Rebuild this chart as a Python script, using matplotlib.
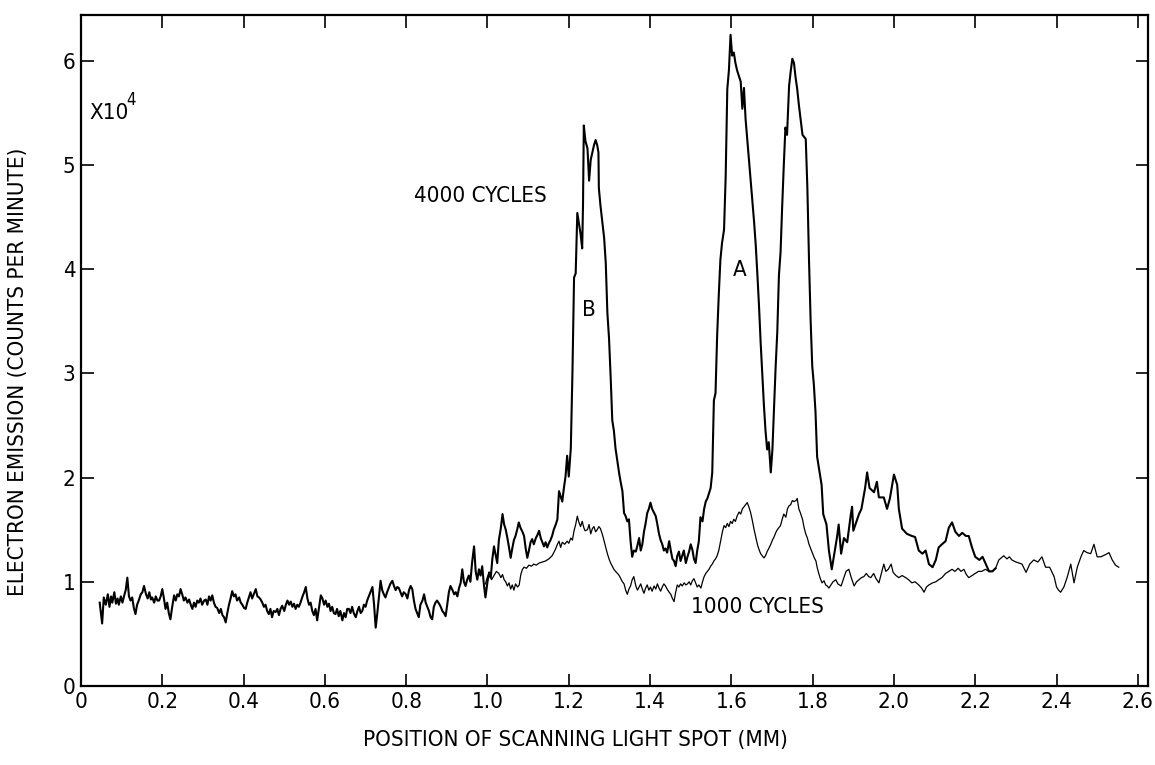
import numpy as np
import matplotlib.pyplot as plt

plt.rcParams['font.family'] = ['DejaVu Sans']
plt.rcParams['font.stretch'] = 'condensed'

# (position mm, emission x10^4 counts/min)
curve_4000 = [
    (0.046, 0.80), (0.049, 0.70), (0.052, 0.60), (0.056, 0.85), (0.061, 0.78), (0.066, 0.88),
    (0.070, 0.76), (0.074, 0.86), (0.077, 0.80), (0.082, 0.90), (0.086, 0.79), (0.090, 0.84),
    (0.093, 0.78), (0.098, 0.86), (0.102, 0.80), (0.107, 0.88), (0.110, 0.92), (0.114, 1.04),
    (0.118, 0.86), (0.122, 0.82), (0.126, 0.85), (0.130, 0.75), (0.134, 0.69), (0.138, 0.78),
    (0.142, 0.82), (0.147, 0.88), (0.151, 0.90), (0.155, 0.96), (0.160, 0.88), (0.164, 0.84),
    (0.168, 0.90), (0.172, 0.83), (0.175, 0.85), (0.180, 0.80), (0.184, 0.86), (0.188, 0.82),
    (0.192, 0.82), (0.196, 0.86), (0.200, 0.93), (0.204, 0.84), (0.208, 0.74), (0.212, 0.80),
    (0.216, 0.70), (0.220, 0.64), (0.224, 0.75), (0.229, 0.87), (0.233, 0.82), (0.237, 0.88),
    (0.241, 0.86), (0.245, 0.93), (0.249, 0.88), (0.253, 0.82), (0.257, 0.85), (0.262, 0.80),
    (0.266, 0.83), (0.270, 0.78), (0.274, 0.74), (0.278, 0.80), (0.282, 0.76), (0.286, 0.82),
    (0.290, 0.80), (0.294, 0.84), (0.298, 0.78), (0.303, 0.82), (0.307, 0.83), (0.311, 0.78),
    (0.315, 0.86), (0.319, 0.82), (0.323, 0.87), (0.327, 0.80), (0.331, 0.76), (0.335, 0.75),
    (0.340, 0.70), (0.344, 0.74), (0.348, 0.68), (0.352, 0.66), (0.356, 0.61), (0.360, 0.70),
    (0.364, 0.78), (0.368, 0.84), (0.372, 0.91), (0.376, 0.86), (0.380, 0.88), (0.384, 0.82),
    (0.389, 0.85), (0.393, 0.80), (0.397, 0.78), (0.401, 0.75), (0.405, 0.74), (0.409, 0.80),
    (0.413, 0.85), (0.417, 0.90), (0.421, 0.84), (0.425, 0.88), (0.430, 0.93), (0.434, 0.86),
    (0.438, 0.85), (0.442, 0.83), (0.446, 0.80), (0.450, 0.76), (0.454, 0.78), (0.458, 0.72),
    (0.462, 0.69), (0.466, 0.74), (0.470, 0.66), (0.474, 0.72), (0.479, 0.71), (0.483, 0.74),
    (0.487, 0.68), (0.491, 0.74), (0.495, 0.77), (0.500, 0.72), (0.504, 0.78), (0.508, 0.82),
    (0.512, 0.78), (0.516, 0.81), (0.520, 0.76), (0.524, 0.79), (0.528, 0.74), (0.532, 0.78),
    (0.536, 0.76), (0.540, 0.80), (0.545, 0.86), (0.549, 0.90), (0.553, 0.95), (0.557, 0.84),
    (0.561, 0.78), (0.565, 0.80), (0.569, 0.72), (0.573, 0.68), (0.577, 0.74), (0.581, 0.63),
    (0.585, 0.74), (0.590, 0.87), (0.594, 0.84), (0.598, 0.78), (0.602, 0.82), (0.606, 0.76),
    (0.610, 0.79), (0.614, 0.72), (0.618, 0.76), (0.622, 0.70), (0.626, 0.69), (0.630, 0.74),
    (0.634, 0.67), (0.638, 0.72), (0.643, 0.63), (0.647, 0.70), (0.651, 0.66), (0.655, 0.74),
    (0.659, 0.74), (0.663, 0.70), (0.667, 0.76), (0.671, 0.70), (0.676, 0.66), (0.680, 0.72),
    (0.684, 0.76), (0.688, 0.70), (0.692, 0.72), (0.696, 0.78), (0.700, 0.76), (0.704, 0.82),
    (0.708, 0.86), (0.712, 0.90), (0.717, 0.95), (0.721, 0.78), (0.725, 0.56), (0.729, 0.70),
    (0.733, 0.86), (0.737, 1.01), (0.741, 0.92), (0.745, 0.88), (0.749, 0.85), (0.753, 0.90),
    (0.757, 0.94), (0.761, 0.98), (0.766, 1.01), (0.770, 0.96), (0.774, 0.92), (0.778, 0.95),
    (0.782, 0.94), (0.786, 0.90), (0.790, 0.86), (0.794, 0.90), (0.799, 0.88), (0.803, 0.84),
    (0.807, 0.92), (0.811, 0.96), (0.815, 0.93), (0.819, 0.82), (0.823, 0.74), (0.827, 0.70),
    (0.831, 0.66), (0.835, 0.78), (0.840, 0.82), (0.844, 0.88), (0.848, 0.80), (0.852, 0.76),
    (0.856, 0.72), (0.860, 0.66), (0.864, 0.64), (0.868, 0.76), (0.872, 0.80), (0.876, 0.82),
    (0.881, 0.79), (0.885, 0.76), (0.889, 0.72), (0.893, 0.70), (0.897, 0.67), (0.901, 0.78),
    (0.905, 0.90), (0.909, 0.96), (0.914, 0.92), (0.918, 0.88), (0.922, 0.90), (0.926, 0.86),
    (0.930, 0.94), (0.934, 0.99), (0.938, 1.12), (0.942, 1.00), (0.946, 0.96), (0.950, 1.02),
    (0.954, 1.06), (0.958, 1.00), (0.962, 1.18), (0.967, 1.34), (0.971, 1.10), (0.975, 1.02),
    (0.979, 1.12), (0.983, 1.06), (0.987, 1.15), (0.991, 0.98), (0.995, 0.85), (1.000, 1.00),
    (1.004, 1.09), (1.008, 1.04), (1.012, 1.22), (1.016, 1.34), (1.020, 1.26), (1.024, 1.18),
    (1.028, 1.40), (1.033, 1.52), (1.037, 1.65), (1.041, 1.55), (1.045, 1.50), (1.049, 1.42),
    (1.053, 1.33), (1.057, 1.23), (1.061, 1.32), (1.065, 1.40), (1.069, 1.44), (1.073, 1.50),
    (1.077, 1.57), (1.081, 1.52), (1.086, 1.48), (1.090, 1.44), (1.094, 1.32), (1.098, 1.23),
    (1.102, 1.30), (1.106, 1.38), (1.110, 1.41), (1.114, 1.36), (1.119, 1.42), (1.123, 1.45),
    (1.127, 1.49), (1.131, 1.42), (1.135, 1.38), (1.139, 1.34), (1.143, 1.38), (1.147, 1.33),
    (1.151, 1.37), (1.155, 1.40), (1.159, 1.44), (1.163, 1.50), (1.168, 1.55), (1.172, 1.60),
    (1.176, 1.87), (1.180, 1.82), (1.184, 1.77), (1.188, 1.90), (1.192, 2.01), (1.196, 2.21),
    (1.200, 2.01), (1.205, 2.28), (1.209, 3.00), (1.213, 3.92), (1.217, 3.96), (1.221, 4.54),
    (1.225, 4.44), (1.229, 4.34), (1.233, 4.20), (1.235, 4.61), (1.237, 5.38), (1.241, 5.23),
    (1.246, 5.16), (1.250, 4.85), (1.254, 5.05), (1.258, 5.12), (1.262, 5.19), (1.266, 5.24),
    (1.270, 5.19), (1.273, 5.12), (1.274, 4.78), (1.278, 4.61), (1.283, 4.44), (1.287, 4.30),
    (1.291, 4.06), (1.295, 3.58), (1.299, 3.34), (1.303, 2.97), (1.307, 2.55), (1.311, 2.45),
    (1.315, 2.28), (1.320, 2.15), (1.324, 2.04), (1.328, 1.95), (1.332, 1.87), (1.336, 1.66),
    (1.340, 1.63), (1.344, 1.58), (1.348, 1.60), (1.352, 1.39), (1.356, 1.24), (1.360, 1.30),
    (1.365, 1.29), (1.369, 1.35), (1.373, 1.42), (1.377, 1.30), (1.381, 1.36), (1.385, 1.48),
    (1.389, 1.56), (1.393, 1.66), (1.397, 1.70), (1.401, 1.76), (1.405, 1.70), (1.410, 1.66),
    (1.414, 1.63), (1.418, 1.55), (1.422, 1.46), (1.426, 1.40), (1.430, 1.36), (1.434, 1.30),
    (1.438, 1.32), (1.442, 1.28), (1.447, 1.39), (1.451, 1.30), (1.455, 1.22), (1.459, 1.20),
    (1.463, 1.15), (1.467, 1.25), (1.471, 1.29), (1.475, 1.20), (1.479, 1.25), (1.483, 1.30),
    (1.488, 1.18), (1.492, 1.24), (1.496, 1.29), (1.500, 1.36), (1.504, 1.31), (1.508, 1.22),
    (1.512, 1.18), (1.516, 1.30), (1.520, 1.39), (1.524, 1.62), (1.529, 1.58), (1.533, 1.70),
    (1.537, 1.77), (1.541, 1.80), (1.545, 1.85), (1.549, 1.90), (1.553, 2.05), (1.557, 2.74),
    (1.561, 2.81), (1.565, 3.36), (1.569, 3.75), (1.573, 4.09), (1.577, 4.25), (1.582, 4.38),
    (1.586, 4.89), (1.590, 5.73), (1.594, 5.91), (1.598, 6.25), (1.602, 6.05), (1.606, 6.08),
    (1.610, 5.98), (1.614, 5.91), (1.618, 5.86), (1.623, 5.80), (1.627, 5.54), (1.631, 5.74),
    (1.635, 5.44), (1.639, 5.25), (1.643, 5.07), (1.647, 4.88), (1.651, 4.67), (1.656, 4.45),
    (1.660, 4.23), (1.664, 3.95), (1.668, 3.65), (1.672, 3.30), (1.676, 2.99), (1.680, 2.70),
    (1.684, 2.45), (1.688, 2.27), (1.692, 2.34), (1.697, 2.05), (1.701, 2.27), (1.705, 2.67),
    (1.709, 3.07), (1.713, 3.40), (1.717, 3.94), (1.721, 4.16), (1.725, 4.60), (1.729, 5.00),
    (1.733, 5.36), (1.737, 5.29), (1.742, 5.76), (1.746, 5.90), (1.750, 6.02), (1.754, 5.98),
    (1.758, 5.84), (1.762, 5.73), (1.766, 5.58), (1.770, 5.45), (1.775, 5.29), (1.779, 5.27),
    (1.783, 5.25), (1.787, 4.78), (1.791, 4.09), (1.795, 3.51), (1.799, 3.07), (1.803, 2.89),
    (1.807, 2.63), (1.811, 2.20), (1.815, 2.10), (1.822, 1.93), (1.826, 1.65), (1.834, 1.55),
    (1.840, 1.30), (1.847, 1.12), (1.852, 1.24), (1.860, 1.43), (1.864, 1.55), (1.870, 1.27),
    (1.877, 1.42), (1.885, 1.38), (1.894, 1.65), (1.897, 1.72), (1.900, 1.49), (1.914, 1.65),
    (1.920, 1.70), (1.929, 1.90), (1.934, 2.05), (1.940, 1.90), (1.951, 1.86), (1.958, 1.96),
    (1.963, 1.81), (1.975, 1.81), (1.983, 1.70), (1.990, 1.80), (2.000, 2.03), (2.008, 1.93),
    (2.012, 1.70), (2.020, 1.51), (2.032, 1.46), (2.044, 1.44), (2.052, 1.43), (2.061, 1.30),
    (2.070, 1.27), (2.078, 1.30), (2.086, 1.17), (2.095, 1.14), (2.103, 1.21), (2.110, 1.33),
    (2.118, 1.36), (2.127, 1.39), (2.135, 1.52), (2.143, 1.57), (2.151, 1.48), (2.160, 1.44),
    (2.168, 1.47), (2.177, 1.44), (2.184, 1.44), (2.192, 1.33), (2.200, 1.24), (2.210, 1.21),
    (2.218, 1.24), (2.226, 1.17), (2.234, 1.10), (2.242, 1.10), (2.250, 1.13),
]

curve_1000 = [
    (0.995, 0.98), (1.000, 1.05), (1.004, 1.08), (1.010, 1.02), (1.016, 1.06), (1.022, 1.10),
    (1.028, 1.08), (1.033, 1.04), (1.037, 1.07), (1.041, 1.02), (1.045, 1.00), (1.049, 0.96),
    (1.053, 0.99), (1.057, 0.93), (1.061, 0.97), (1.065, 0.92), (1.069, 0.98), (1.074, 0.95),
    (1.078, 0.97), (1.082, 1.07), (1.086, 1.12), (1.090, 1.14), (1.096, 1.13), (1.102, 1.16),
    (1.108, 1.15), (1.114, 1.17), (1.120, 1.16), (1.127, 1.18), (1.135, 1.19), (1.143, 1.20),
    (1.151, 1.22), (1.159, 1.25), (1.163, 1.28), (1.167, 1.31), (1.172, 1.36), (1.176, 1.39),
    (1.180, 1.33), (1.184, 1.38), (1.190, 1.36), (1.196, 1.39), (1.200, 1.37), (1.205, 1.42),
    (1.209, 1.40), (1.213, 1.49), (1.217, 1.55), (1.221, 1.63), (1.225, 1.57), (1.229, 1.53),
    (1.233, 1.58), (1.237, 1.52), (1.240, 1.49), (1.246, 1.50), (1.250, 1.55), (1.254, 1.46),
    (1.258, 1.51), (1.262, 1.53), (1.266, 1.48), (1.270, 1.50), (1.274, 1.53), (1.278, 1.51),
    (1.283, 1.45), (1.287, 1.39), (1.291, 1.33), (1.295, 1.27), (1.299, 1.22), (1.303, 1.18),
    (1.307, 1.15), (1.311, 1.12), (1.315, 1.10), (1.320, 1.08), (1.324, 1.06), (1.328, 1.03),
    (1.332, 1.00), (1.336, 0.98), (1.340, 0.92), (1.344, 0.88), (1.348, 0.93), (1.352, 0.96),
    (1.356, 1.02), (1.360, 1.05), (1.365, 0.96), (1.369, 0.92), (1.373, 0.95), (1.377, 0.98),
    (1.381, 0.93), (1.385, 0.89), (1.389, 0.94), (1.393, 0.97), (1.397, 0.92), (1.401, 0.95),
    (1.405, 0.91), (1.410, 0.96), (1.414, 0.93), (1.418, 0.98), (1.422, 0.94), (1.426, 0.91),
    (1.430, 0.95), (1.434, 0.98), (1.438, 0.96), (1.442, 0.93), (1.447, 0.90), (1.451, 0.88),
    (1.455, 0.84), (1.459, 0.81), (1.463, 0.90), (1.467, 0.97), (1.471, 0.95), (1.475, 0.98),
    (1.479, 0.96), (1.484, 0.99), (1.488, 0.97), (1.492, 0.98), (1.496, 1.00), (1.500, 0.97),
    (1.504, 1.01), (1.508, 1.03), (1.512, 0.99), (1.516, 0.95), (1.520, 0.97), (1.525, 0.94),
    (1.529, 1.00), (1.533, 1.05), (1.537, 1.08), (1.541, 1.10), (1.545, 1.12), (1.549, 1.15),
    (1.553, 1.17), (1.557, 1.20), (1.561, 1.22), (1.565, 1.25), (1.569, 1.30), (1.573, 1.38),
    (1.578, 1.48), (1.582, 1.54), (1.586, 1.52), (1.590, 1.56), (1.594, 1.53), (1.598, 1.58),
    (1.602, 1.56), (1.606, 1.60), (1.610, 1.58), (1.614, 1.63), (1.619, 1.67), (1.623, 1.65),
    (1.627, 1.70), (1.631, 1.72), (1.635, 1.74), (1.639, 1.76), (1.643, 1.72), (1.647, 1.67),
    (1.651, 1.60), (1.656, 1.50), (1.660, 1.43), (1.664, 1.36), (1.668, 1.31), (1.672, 1.27),
    (1.676, 1.25), (1.680, 1.23), (1.684, 1.25), (1.688, 1.29), (1.692, 1.32), (1.697, 1.36),
    (1.701, 1.40), (1.705, 1.43), (1.709, 1.47), (1.713, 1.50), (1.717, 1.52), (1.721, 1.54),
    (1.725, 1.60), (1.729, 1.65), (1.734, 1.62), (1.738, 1.70), (1.742, 1.73), (1.746, 1.74),
    (1.750, 1.78), (1.754, 1.77), (1.759, 1.78), (1.762, 1.80), (1.766, 1.70), (1.770, 1.66),
    (1.775, 1.60), (1.779, 1.52), (1.783, 1.46), (1.787, 1.42), (1.791, 1.36), (1.795, 1.32),
    (1.800, 1.27), (1.804, 1.23), (1.808, 1.20), (1.811, 1.14), (1.815, 1.08), (1.819, 1.03),
    (1.823, 0.99), (1.828, 1.01), (1.832, 0.97), (1.836, 0.96), (1.840, 0.94), (1.845, 0.97),
    (1.850, 1.00), (1.857, 1.02), (1.862, 0.98), (1.870, 0.96), (1.876, 1.03), (1.882, 1.10),
    (1.889, 1.12), (1.895, 1.04), (1.902, 0.96), (1.908, 1.00), (1.914, 1.02), (1.920, 1.04),
    (1.926, 1.05), (1.932, 1.08), (1.938, 1.05), (1.943, 1.04), (1.950, 1.08), (1.956, 1.03),
    (1.963, 0.99), (1.969, 1.08), (1.975, 1.17), (1.980, 1.10), (1.986, 1.12), (1.993, 1.17),
    (1.998, 1.09), (2.005, 1.06), (2.012, 1.04), (2.020, 1.06), (2.029, 1.04), (2.036, 1.02),
    (2.044, 0.99), (2.052, 1.00), (2.061, 0.97), (2.068, 0.94), (2.074, 0.90), (2.080, 0.95),
    (2.086, 0.97), (2.095, 0.99), (2.103, 1.00), (2.110, 1.02), (2.118, 1.04), (2.127, 1.08),
    (2.135, 1.10), (2.143, 1.12), (2.150, 1.10), (2.158, 1.13), (2.165, 1.10), (2.172, 1.12),
    (2.178, 1.07), (2.184, 1.04), (2.192, 1.06), (2.200, 1.08), (2.208, 1.10), (2.216, 1.10),
    (2.225, 1.12), (2.234, 1.10), (2.242, 1.10), (2.250, 1.13), (2.258, 1.21), (2.264, 1.23),
    (2.270, 1.25), (2.278, 1.22), (2.284, 1.24), (2.290, 1.21), (2.300, 1.19), (2.308, 1.18),
    (2.315, 1.17), (2.325, 1.09), (2.334, 1.17), (2.344, 1.21), (2.354, 1.19), (2.364, 1.24),
    (2.373, 1.14), (2.383, 1.14), (2.394, 1.05), (2.400, 0.95), (2.405, 0.92), (2.410, 0.90),
    (2.418, 0.95), (2.426, 1.04), (2.435, 1.17), (2.443, 0.99), (2.451, 1.14), (2.460, 1.24),
    (2.467, 1.30), (2.475, 1.28), (2.484, 1.27), (2.492, 1.36), (2.500, 1.24), (2.509, 1.24),
    (2.520, 1.26), (2.529, 1.28), (2.537, 1.21), (2.545, 1.16), (2.553, 1.14),
]

x_ticks = [0, 0.2, 0.4, 0.6, 0.8, 1.0, 1.2, 1.4, 1.6, 1.8, 2.0, 2.2, 2.4, 2.6]
x_labels = ['0', '0.2', '0.4', '0.6', '0.8', '1.0', '1.2', '1.4', '1.6', '1.8', '2.0', '2.2', '2.4', '2.6']
y_ticks = [0, 1, 2, 3, 4, 5, 6]


fig = plt.figure(figsize=(11.55, 7.65), dpi=100)
ax = fig.add_axes([81 / 1155, 79 / 765, 1067 / 1155, 671 / 765])

x4, y4 = np.array(curve_4000).T
x1, y1 = np.array(curve_1000).T
ax.plot(x4, y4, color='black', lw=1.5)
ax.plot(x1, y1, color='black', lw=0.9)

ax.set_xlim(0, 2.625)
ax.set_ylim(0, 6.44)
ax.set_xticks(x_ticks)
ax.set_xticklabels(x_labels)
ax.set_yticks(y_ticks)
ax.tick_params(direction='in', length=9, width=1.2, top=True, right=True,
               labelsize=16, pad=4)
for s in ax.spines.values():
    s.set_linewidth(1.6)

ax.set_xlabel('POSITION OF SCANNING LIGHT SPOT (MM)', fontsize=16)
ax.set_ylabel('ELECTRON EMISSION (COUNTS PER MINUTE)', fontsize=16)
ax.xaxis.set_label_coords(0.463, -0.066)
ax.yaxis.set_label_coords(-0.05, 0.468)

ax.text(0.02, 5.5, 'X10', fontsize=16, ha='left', va='center')
ax.text(0.112, 5.62, '4', fontsize=12, ha='left', va='center')
ax.text(0.82, 4.70, '4000 CYCLES', fontsize=16, ha='left', va='center')
ax.text(1.25, 3.61, 'B', fontsize=16, ha='center', va='center')
ax.text(1.62, 3.99, 'A', fontsize=16, ha='center', va='center')
ax.text(1.50, 0.76, '1000 CYCLES', fontsize=16, ha='left', va='center')

fig.savefig('out.png', dpi=100)
